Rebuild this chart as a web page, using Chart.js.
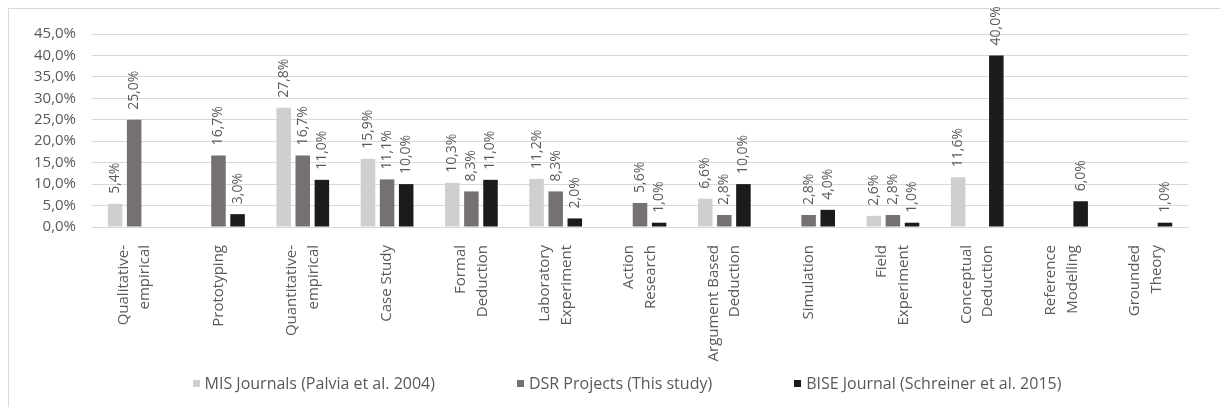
<!DOCTYPE html>
<html>
<head>
<meta charset="utf-8">
<script src="https://cdn.jsdelivr.net/npm/chart.js@4.4.1/dist/chart.umd.min.js"></script>
<style>
  html, body { margin: 0; padding: 0; background: #fff; }
  #wrap { position: relative; width: 1220px; height: 407px; overflow: hidden; }
  #frame { position: absolute; left: 8px; top: 8px; width: 1260px; height: 440px;
           border-left: 1px solid #d9d9d9; border-top: 1px solid #d9d9d9; }
  #chart { position: absolute; left: 0; top: 0; }
  #legend { position: absolute; left: 17px; top: 372px; width: 1220px; height: 22px;
            display: flex; justify-content: center; gap: 82px;
            font: 16px "Open Sans", sans-serif; color: #595959; }
  #legend .item { display: flex; align-items: center; white-space: nowrap; line-height: 22px; }
  #legend .box { display: inline-block; width: 7px; height: 7px; margin-right: 5px; }
</style>
</head>
<body>
<div id="wrap">
  <div id="frame"></div>
  <canvas id="chart" width="1220" height="407"></canvas>
  <div id="legend"></div>
</div>
<script>
// Research methods, share of publications / projects per method
const categories = [
  ['Qualitative-', 'empirical'],
  ['Prototyping'],
  ['Quantitative-', 'empirical'],
  ['Case Study'],
  ['Formal', 'Deduction'],
  ['Laboratory', 'Experiment'],
  ['Action', 'Research'],
  ['Argument Based', 'Deduction'],
  ['Simulation'],
  ['Field', 'Experiment'],
  ['Conceptual', 'Deduction'],
  ['Reference', 'Modelling'],
  ['Grounded', 'Theory']
];

const seriesNames = [
  'MIS Journals (Palvia et al. 2004)',
  'DSR Projects (This study)',
  'BISE Journal (Schreiner et al. 2015)'
];

const misJournals  = [5.4, null, 27.8, 15.9, 10.3, 11.2, null, 6.6, null, 2.6, 11.6, null, null];
const dsrProjects  = [25.0, 16.7, 16.7, 11.1, 8.3, 8.3, 5.6, 2.8, 2.8, 2.8, null, null, null];
const biseJournal  = [null, 3.0, 11.0, 10.0, 11.0, 2.0, 1.0, 10.0, 4.0, 1.0, 40.0, 6.0, 1.0];

const yTicks = [0, 5, 10, 15, 20, 25, 30, 35, 40, 45];

const seriesColors = ['#d0cece', '#767171', '#1b1b1b'];
const textColor = '#595959';
const gridColor = '#d9d9d9';

const pct = v => v.toFixed(1).replace('.', ',') + '%';

// Vertical value labels above each bar
const valueLabels = {
  id: 'valueLabels',
  afterDatasetsDraw(chart) {
    const ctx = chart.ctx;
    ctx.save();
    ctx.font = '14px "Open Sans", sans-serif';
    ctx.fillStyle = textColor;
    ctx.textAlign = 'left';
    ctx.textBaseline = 'middle';
    chart.data.datasets.forEach((ds, i) => {
      chart.getDatasetMeta(i).data.forEach((bar, j) => {
        const v = ds.data[j];
        if (v === null || v === undefined) return;
        ctx.save();
        ctx.translate(bar.x, bar.y - 10);
        ctx.rotate(-Math.PI / 2);
        ctx.fillText(pct(v), 0, 0);
        ctx.restore();
      });
    });
    ctx.restore();
  }
};

// Center multi-line rotated category labels on their tick
const centerTickLines = {
  id: 'centerTickLines',
  beforeDraw(chart) {
    const scale = chart.scales.x;
    scale.getLabelItems().forEach(item => {
      if (item._centered) return;
      const n = Array.isArray(item.label) ? item.label.length : 1;
      item.textOffset -= (n - 1) * item.font.lineHeight / 2;
      item._centered = true;
    });
  }
};

const seriesData = [misJournals, dsrProjects, biseJournal];

const chart = new Chart(document.getElementById('chart'), {
  type: 'bar',
  data: {
    labels: categories,
    datasets: seriesData.map((d, i) => ({
      label: seriesNames[i],
      data: d,
      backgroundColor: seriesColors[i],
      borderWidth: 0,
      categoryPercentage: 0.68,
      barPercentage: 0.76
    }))
  },
  options: {
    responsive: false,
    animation: false,
    layout: { padding: { top: 34, right: 32, bottom: 40, left: 0 } },
    plugins: {
      legend: { display: false },
      tooltip: { enabled: false }
    },
    scales: {
      x: {
        grid: { display: false },
        border: { color: gridColor, width: 1 },
        ticks: {
          autoSkip: false,
          maxRotation: 90,
          minRotation: 90,
          padding: 10,
          color: textColor,
          font: { family: '"Open Sans", sans-serif', size: 15, lineHeight: 1.45 }
        },
        afterFit(scale) { scale.height = 140; }
      },
      y: {
        min: 0,
        max: 45,
        afterBuildTicks(scale) { scale.ticks = yTicks.map(v => ({ value: v })); },
        grid: { color: gridColor, drawTicks: false },
        border: { display: false },
        ticks: {
          padding: 16,
          color: textColor,
          font: { family: '"Open Sans", sans-serif', size: 15 },
          callback: v => pct(v)
        },
        afterFit(scale) { scale.width = 92; }
      }
    }
  },
  plugins: [valueLabels, centerTickLines]
});

// Legend built from the chart's own legend items
const legendEl = document.getElementById('legend');
Chart.defaults.plugins.legend.labels.generateLabels(chart).forEach(item => {
  const el = document.createElement('div');
  el.className = 'item';
  const box = document.createElement('span');
  box.className = 'box';
  box.style.background = item.fillStyle;
  el.appendChild(box);
  el.appendChild(document.createTextNode(item.text));
  legendEl.appendChild(el);
});
</script>
</body>
</html>
